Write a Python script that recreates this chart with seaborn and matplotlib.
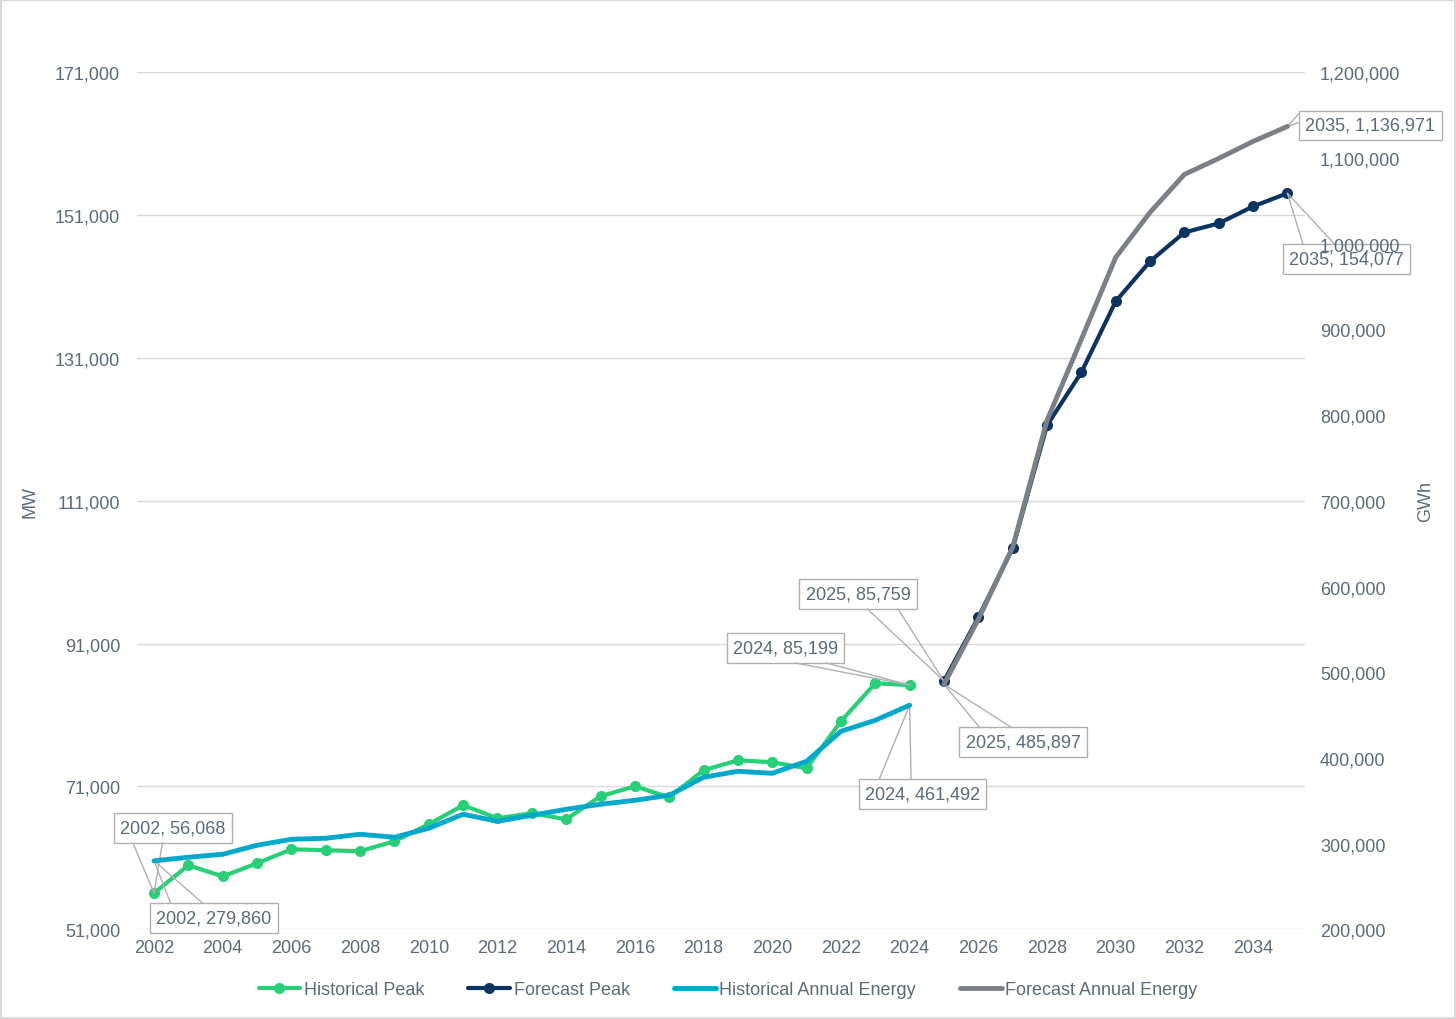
import matplotlib
matplotlib.use("Agg")
import matplotlib.pyplot as plt
import matplotlib.ticker as mticker
from matplotlib.lines import Line2D
from matplotlib.transforms import IdentityTransform
import seaborn as sns
import pandas as pd

hist_years = list(range(2002, 2025))
hist_peak = [56068, 59960, 58400, 60240, 62200, 62070, 61930, 63320, 65700, 68365,
             66545, 67245, 66400, 69625, 71025, 69485, 73266, 74666, 74386, 73546,
             80127, 85448, 85199]
hist_energy = [279860, 284000, 287500, 298000, 305000, 306200, 310850, 307350, 317850,
               334190, 326000, 333000, 340000, 345860, 350500, 356360, 377360, 384365,
               382000, 396000, 431000, 443875, 461492]
fc_years = list(range(2025, 2036))
fc_peak = [85759, 94689, 104350, 121573, 128994, 138935, 144536, 148597, 149857,
           152237, 154077]
fc_energy = [485897, 561700, 645740, 793900, 888450, 984130, 1036640, 1080980,
             1099650, 1119490, 1136971]

mw_ticks = [51000, 71000, 91000, 111000, 131000, 151000, 171000]
gwh_ticks = list(range(200000, 1200001, 100000))
x_ticks = list(range(2002, 2035, 2))

sns.set_theme(style="white")
plt.rcParams['font.family'] = ['Liberation Sans', 'DejaVu Sans']
TXT = '#5a6b7c'
FS = 13
EDGE = '#b0b0b0'

hist = pd.DataFrame({'year': hist_years, 'peak': hist_peak, 'energy': hist_energy})
fc = pd.DataFrame({'year': fc_years, 'peak': fc_peak, 'energy': fc_energy})

fig = plt.figure(figsize=(14.56, 10.2), dpi=100)
fig.patch.set_edgecolor('#d9d9d9')
fig.patch.set_linewidth(1.5)
ax = fig.add_axes([0.094, 0.088, 0.802, 0.840])
ax2 = ax.twinx()

C_GREEN = '#27cf76'
C_NAVY = '#0b3461'
C_CYAN = '#00a8cc'
C_GRAY = '#7b8087'

sns.lineplot(data=hist, x='year', y='peak', ax=ax, color=C_GREEN, lw=3,
             marker='o', markersize=8, markeredgewidth=0, label='Historical Peak')
sns.lineplot(data=fc, x='year', y='peak', ax=ax, color=C_NAVY, lw=3,
             marker='o', markersize=8, markeredgewidth=0, label='Forecast Peak')
sns.lineplot(data=hist, x='year', y='energy', ax=ax2, color=C_CYAN, lw=3.5,
             label='Historical Annual Energy')
sns.lineplot(data=fc, x='year', y='energy', ax=ax2, color=C_GRAY, lw=3.5,
             label='Forecast Annual Energy')

ax.set_xlim(2001.5, 2035.5)
ax.set_ylim(51000, 171000)
ax2.set_ylim(200000, 1200000)
ax.set_xticks(x_ticks)
ax.set_yticks(mw_ticks)
ax2.set_yticks(gwh_ticks)
fmt = mticker.FuncFormatter(lambda v, p: f'{int(v):,}')
ax.yaxis.set_major_formatter(fmt)
ax2.yaxis.set_major_formatter(fmt)
ax.xaxis.set_major_formatter(mticker.FuncFormatter(lambda v, p: f'{int(v)}'))

for a in (ax, ax2):
    for s in a.spines.values():
        s.set_visible(False)
    a.tick_params(length=0, colors=TXT, labelsize=FS)
ax.tick_params(axis='y', pad=12)
ax2.tick_params(axis='y', pad=11)
ax.tick_params(axis='x', pad=7)
ax.grid(axis='y', color='#d9d9d9', lw=1)
ax.set_axisbelow(True)
ax.set_xlabel('')
ax.set_ylabel('MW', color=TXT, fontsize=FS, labelpad=12)
ax2.set_ylabel('GWh', color=TXT, fontsize=FS, labelpad=12)

ax.get_legend().remove()
ax2.get_legend().remove()
h1, l1 = ax.get_legend_handles_labels()
h2, l2 = ax2.get_legend_handles_labels()
leg = fig.legend(h1 + h2, l1 + l2, loc='center', bbox_to_anchor=(0.5, 0.029),
                 ncol=4, frameon=False, fontsize=FS, handlelength=2.3,
                 handletextpad=0.2, columnspacing=2.45)
for t in leg.get_texts():
    t.set_color(TXT)

# callouts: boxes live on the lower axes so right-axis tick labels draw over them
callouts = []
def callout(src_ax, x, y, text, dx, dy):
    ann = ax.annotate(text, xy=(x, y), xycoords=src_ax.transData,
                      xytext=(dx, dy), textcoords='offset pixels',
                      ha='center', va='center', fontsize=FS, color=TXT,
                      bbox=dict(boxstyle='square,pad=0.35', fc='white', ec=EDGE, lw=1),
                      annotation_clip=False, zorder=10)
    callouts.append((ann, src_ax, x, y))

callout(ax, hist_years[0], hist_peak[0], f'{hist_years[0]}, {hist_peak[0]:,}', 19, 65)
callout(ax2, hist_years[0], hist_energy[0], f'{hist_years[0]}, {hist_energy[0]:,}', 60, -57)
callout(ax, hist_years[-1], hist_peak[-1], f'{hist_years[-1]}, {hist_peak[-1]:,}', -124, 37)
callout(ax2, hist_years[-1], hist_energy[-1], f'{hist_years[-1]}, {hist_energy[-1]:,}', 13, -89)
callout(ax, fc_years[0], fc_peak[0], f'{fc_years[0]}, {fc_peak[0]:,}', -86, 87)
callout(ax2, fc_years[0], fc_energy[0], f'{fc_years[0]}, {fc_energy[0]:,}', 79, -58)
callout(ax2, fc_years[-1], fc_energy[-1], f'{fc_years[-1]}, {fc_energy[-1]:,}', 83, 1)
callout(ax, fc_years[-1], fc_peak[-1], f'{fc_years[-1]}, {fc_peak[-1]:,}', 59, -66)

fig.canvas.draw()
renderer = fig.canvas.get_renderer()
for ann, src_ax, x, y in callouts:
    bb = ann.get_bbox_patch().get_window_extent(renderer)
    px, py = src_ax.transData.transform((x, y))
    cx = (bb.x0 + bb.x1) / 2
    if py < bb.y0 or py > bb.y1:
        ey = bb.y0 if py < bb.y0 else bb.y1
        f1, f2 = (0.16, 0.41) if px < cx else (0.58, 0.84)
        b1 = (bb.x0 + f1 * bb.width, ey)
        b2 = (bb.x0 + f2 * bb.width, ey)
    else:
        ex = bb.x0 if px < bb.x0 else bb.x1
        b1 = (ex, bb.y1 - 0.1 * bb.height)
        b2 = (ex, bb.y1 - 0.4 * bb.height)
    for b in (b1, b2):
        ln = Line2D([b[0], px], [b[1], py], color=EDGE, lw=1,
                    transform=IdentityTransform(), zorder=11)
        ln.set_clip_on(False)
        ax.add_artist(ln)

fig.savefig('out.png', dpi=100)
